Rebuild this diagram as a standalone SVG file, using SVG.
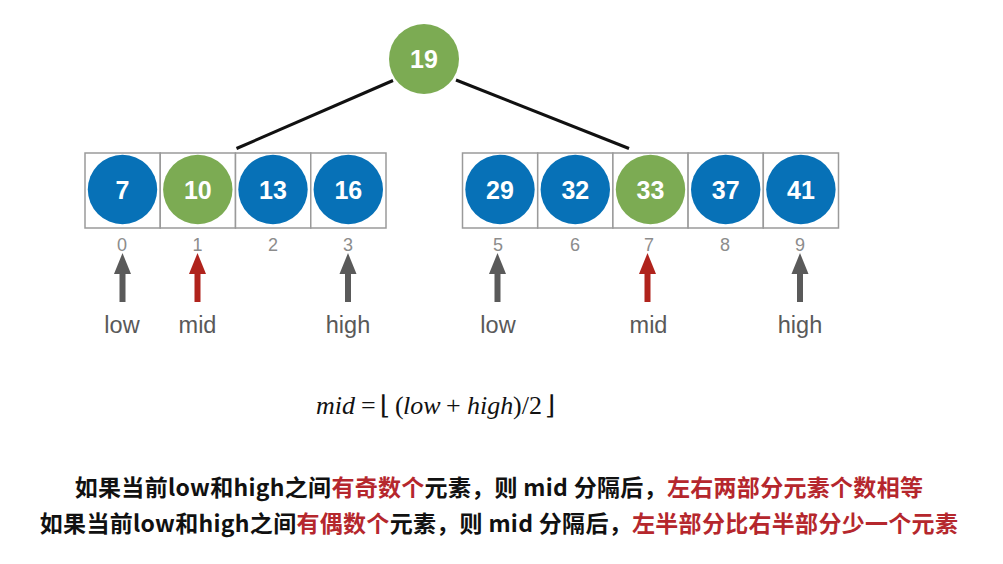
<svg xmlns="http://www.w3.org/2000/svg" width="1003" height="564" viewBox="0 0 1003 564">
<defs>
<style>
.cell{fill:#ffffff;stroke:#9a9a9a;stroke-width:1.5}
.blue{fill:#0771b7}
.green{fill:#7cab53}
.num{font-family:"Liberation Sans",Arial,sans-serif;font-size:25px;font-weight:bold;fill:#ffffff;text-anchor:middle}
.idx{font-family:"Liberation Sans",Arial,sans-serif;font-size:18px;fill:#8c8c8c;text-anchor:middle}
.lbl{font-family:"Liberation Sans",Arial,sans-serif;font-size:23.5px;fill:#595959;text-anchor:middle}
.edge{stroke:#111111;stroke-width:3;fill:none}
.gray{fill:#5a5a5a}
.red{fill:#b0231c}
.f{font-family:"Liberation Serif","Times New Roman",serif;font-size:26px;fill:#111111}
.fi{font-style:italic}
.br{font-family:"DejaVu Serif",serif;font-size:26px}
.zh{font-family:"Noto Sans CJK SC","Noto Sans",sans-serif;font-size:23px;font-weight:bold;fill:#111111;text-anchor:middle;letter-spacing:0.3px}
.zr{fill:#b5272d}
</style>
<g id="arrow-gray"><rect x="-3" y="20" width="6" height="29" class="gray"/><polygon points="-8.5,21 0,0 8.5,21" class="gray"/></g>
<g id="arrow-red"><rect x="-3" y="20" width="6" height="29" class="red"/><polygon points="-8.5,21 0,0 8.5,21" class="red"/></g>
</defs>
<rect width="1003" height="564" fill="#ffffff"/>

<g id="connectors">
<line x1="393" y1="80.5" x2="236.5" y2="148.5" class="edge"/>
<line x1="456" y1="80" x2="629" y2="148.5" class="edge"/>
</g>

<g id="root">
<circle cx="424" cy="59" r="35" class="green"/>
<text x="424" y="68" class="num">19</text>
</g>

<g id="left-array">
<rect x="85" y="153" width="75.25" height="75" class="cell"/>
<rect x="160.25" y="153" width="75.25" height="75" class="cell"/>
<rect x="235.5" y="153" width="75.25" height="75" class="cell"/>
<rect x="310.75" y="153" width="75.25" height="75" class="cell"/>
</g>
<g id="n7"><circle cx="122.5" cy="189.5" r="34.7" class="blue"/><text x="122.5" y="198.5" class="num">7</text></g>
<g id="n10"><circle cx="197.8" cy="189.5" r="34.7" class="green"/><text x="197.8" y="198.5" class="num">10</text></g>
<g id="n13"><circle cx="273" cy="189.5" r="34.7" class="blue"/><text x="273" y="198.5" class="num">13</text></g>
<g id="n16"><circle cx="348.3" cy="189.5" r="34.7" class="blue"/><text x="348.3" y="198.5" class="num">16</text></g>

<g id="right-array">
<rect x="462.5" y="153" width="75.2" height="75" class="cell"/>
<rect x="537.7" y="153" width="75.2" height="75" class="cell"/>
<rect x="612.9" y="153" width="75.2" height="75" class="cell"/>
<rect x="688.1" y="153" width="75.2" height="75" class="cell"/>
<rect x="763.3" y="153" width="75.2" height="75" class="cell"/>
</g>
<g id="n29"><circle cx="500" cy="189.5" r="34.7" class="blue"/><text x="500" y="198.5" class="num">29</text></g>
<g id="n32"><circle cx="575.3" cy="189.5" r="34.7" class="blue"/><text x="575.3" y="198.5" class="num">32</text></g>
<g id="n33"><circle cx="650.5" cy="189.5" r="34.7" class="green"/><text x="650.5" y="198.5" class="num">33</text></g>
<g id="n37"><circle cx="725.7" cy="189.5" r="34.7" class="blue"/><text x="725.7" y="198.5" class="num">37</text></g>
<g id="n41"><circle cx="800.9" cy="189.5" r="34.7" class="blue"/><text x="800.9" y="198.5" class="num">41</text></g>

<g id="indices">
<text x="122" y="251" class="idx">0</text>
<text x="197.5" y="251" class="idx">1</text>
<text x="273" y="251" class="idx">2</text>
<text x="348" y="251" class="idx">3</text>
<text x="498" y="251" class="idx">5</text>
<text x="575" y="251" class="idx">6</text>
<text x="649" y="251" class="idx">7</text>
<text x="725" y="251" class="idx">8</text>
<text x="800" y="251" class="idx">9</text>
</g>

<g id="pointers">
<use href="#arrow-gray" x="122.5" y="253"/>
<use href="#arrow-red" x="197.5" y="253"/>
<use href="#arrow-gray" x="348" y="253"/>
<use href="#arrow-gray" x="497.5" y="253"/>
<use href="#arrow-red" x="647.5" y="253"/>
<use href="#arrow-gray" x="800" y="253"/>
<text x="122" y="333" class="lbl">low</text>
<text x="197.5" y="333" class="lbl">mid</text>
<text x="348" y="333" class="lbl">high</text>
<text x="498" y="333" class="lbl">low</text>
<text x="648.5" y="333" class="lbl">mid</text>
<text x="800" y="333" class="lbl">high</text>
</g>

<g id="formula">
<text y="414" class="f"><tspan x="316" class="fi">mid</tspan><tspan x="361">=</tspan><tspan x="380" class="br">⌊</tspan><tspan x="395">(</tspan><tspan x="403" class="fi">low</tspan><tspan x="446">+</tspan><tspan x="467" class="fi">high</tspan><tspan x="513">)/2</tspan><tspan x="545" class="br">⌋</tspan></text>
</g>

<g id="notes">
<text x="499" y="496" class="zh">如果当前low和high之间<tspan class="zr">有奇数个</tspan>元素，则 mid 分隔后，<tspan class="zr">左右两部分元素个数相等</tspan></text>
<text x="499" y="532" class="zh">如果当前low和high之间<tspan class="zr">有偶数个</tspan>元素，则 mid 分隔后，<tspan class="zr">左半部分比右半部分少一个元素</tspan></text>
</g>
</svg>
